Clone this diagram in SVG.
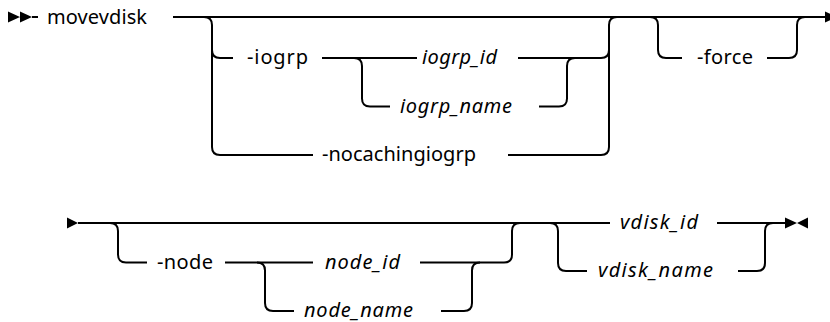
<svg xmlns="http://www.w3.org/2000/svg" width="830" height="322" viewBox="0 0 830 322">
<style>
.ln{fill:none;stroke:#000;stroke-width:2}
.mk{fill:#000;stroke:none}
text{font-family:"Noto Sans","Liberation Sans",sans-serif;font-size:20px;fill:#000}
.v{font-style:italic}
</style>
<rect width="830" height="322" fill="#fff"/>
<g id="connectors">
<path class="ln" d="M32,17 H38"/>
<path class="ln" d="M173,17 H826"/>
<path class="ln" d="M204,17 Q212,17 212,25 V147 Q212,155 220,155 H313"/>
<path class="ln" d="M212,50 Q212,58 220,58 H233"/>
<path class="ln" d="M322,58 H417"/>
<path class="ln" d="M354,58 Q362,58 362,66 V98.5 Q362,106.5 370,106.5 H390"/>
<path class="ln" d="M539,106.5 H559 Q567,106.5 567,98.5 V66 Q567,58 575,58"/>
<path class="ln" d="M518,58 H601 Q609,58 609,50"/>
<path class="ln" d="M508,155 H601 Q609,155 609,147 V25 Q609,17 617,17"/>
<path class="ln" d="M650,17 Q658,17 658,25 V50 Q658,58 666,58 H682"/>
<path class="ln" d="M767,58 H789 Q797,58 797,50 V25 Q797,17 805,17"/>
<path class="ln" d="M78,223 H610"/>
<path class="ln" d="M110,223 Q118,223 118,231 V254.5 Q118,262.5 126,262.5 H147"/>
<path class="ln" d="M225,262.5 H313"/>
<path class="ln" d="M257,262.5 Q265,262.5 265,270.5 V303 Q265,311 273,311 H294"/>
<path class="ln" d="M441,311 H464 Q472,311 472,303 V270.5 Q472,262.5 480,262.5"/>
<path class="ln" d="M420,262.5 H504 Q512,262.5 512,254.5 V231 Q512,223 520,223"/>
<path class="ln" d="M550,223 Q558,223 558,231 V263 Q558,271 566,271 H587"/>
<path class="ln" d="M717,223 H786"/>
<path class="ln" d="M738,271 H757 Q765,271 765,263 V231 Q765,223 773,223"/>
</g>
<g id="start">
<path class="mk" d="M8,11.5 L20,17 L8,22.5 Z M20,11.5 L32,17 L20,22.5 Z"/>
</g>
<g id="end-arrow-row1">
<path class="mk" d="M825,11.5 L837,17 L825,22.5 Z"/>
</g>
<g id="continue-row2">
<path class="mk" d="M67,217.5 L78,223 L67,228.5 Z"/>
</g>
<g id="end">
<path class="mk" d="M785,217.5 L797,223 L785,228.5 Z M808,217.5 L797,223 L808,228.5 Z"/>
</g>
<g id="movevdisk"><text x="47" y="24" textLength="100">movevdisk</text></g>
<g id="iogrp"><text x="247" y="64" textLength="61">-iogrp</text></g>
<g id="iogrp_id"><text class="v" x="422" y="64" textLength="75">iogrp_id</text></g>
<g id="iogrp_name"><text class="v" x="400" y="113" textLength="112">iogrp_name</text></g>
<g id="nocachingiogrp"><text x="322" y="161" textLength="154">-nocachingiogrp</text></g>
<g id="force"><text x="697" y="64" textLength="56">-force</text></g>
<g id="node"><text x="157" y="269" textLength="56">-node</text></g>
<g id="node_id"><text class="v" x="325" y="269" textLength="75">node_id</text></g>
<g id="node_name"><text class="v" x="304" y="317" textLength="109">node_name</text></g>
<g id="vdisk_id"><text class="v" x="620" y="229" textLength="78">vdisk_id</text></g>
<g id="vdisk_name"><text class="v" x="598" y="277" textLength="115">vdisk_name</text></g>
</svg>
